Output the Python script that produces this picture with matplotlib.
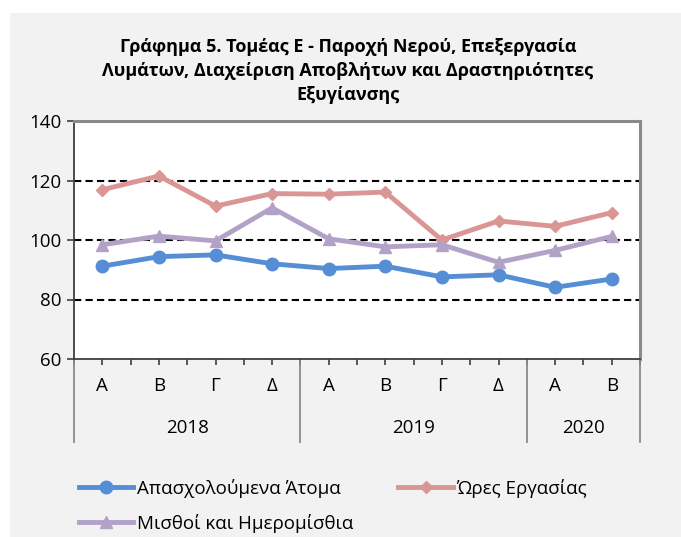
import matplotlib
matplotlib.use("Agg")
import matplotlib.pyplot as plt
from matplotlib.lines import Line2D
from matplotlib.patches import Rectangle
import matplotlib.transforms as mtransforms

plt.rcParams['font.family'] = ['Open Sans', 'DejaVu Sans']

quarters = ["Α", "Β", "Γ", "Δ", "Α", "Β", "Γ", "Δ", "Α", "Β"]
years = ["2018", "2019", "2020"]
year_counts = [4, 4, 2]
employed = [91.2, 94.4, 95.0, 92.0, 90.4, 91.2, 87.6, 88.3, 84.1, 86.9]
hours = [116.9, 121.5, 111.4, 115.6, 115.4, 116.1, 100.0, 106.4, 104.6, 109.2]
wages = [98.4, 101.3, 99.7, 110.8, 100.4, 97.7, 98.4, 92.5, 96.5, 101.2]
series_names = ["Απασχολούμενα Άτομα", "Ώρες Εργασίας", "Μισθοί και Ημερομίσθια"]
title = "Γράφημα 5. Τομέας Ε - Παροχή Νερού, Επεξεργασία\nΛυμάτων, Διαχείριση Αποβλήτων και Δραστηριότητες\nΕξυγίανσης"
yticks = [60, 80, 100, 120, 140]

W, H = 681, 537
fig = plt.figure(figsize=(W / 100, H / 100), dpi=100, facecolor="white")
fig.patches.append(Rectangle((10 / W, 0), 1, (H - 13) / H, transform=fig.transFigure,
                             facecolor="#f2f2f2", edgecolor="none", zorder=-10))

ax = fig.add_axes([74 / W, 1 - 359 / H, (640 - 74) / W, (359 - 121) / H])
ax.set_facecolor("white")

colors = ["#558ed5", "#d99694", "#b3a2c7"]
markers = ["o", "D", "^"]
msizes = [9, 6.5, 9]
xs = [i + 0.5 for i in range(len(quarters))]
for vals, c, m, ms, name in zip([employed, hours, wages], colors, markers, msizes, series_names):
    ax.plot(xs, vals, color=c, lw=3.5, marker=m, ms=ms, mec=c, mfc=c, label=name, zorder=3)

FS = 13.5
ax.set_xlim(0, len(quarters))
ax.set_ylim(60, 140)
ax.set_yticks(yticks)
ax.set_yticklabels([str(v) for v in yticks], fontsize=FS)
for v in yticks[1:-1]:
    ax.axhline(v, color="black", lw=1.5, ls=(0, (3.5, 2)), zorder=1)

for side in ["top", "right"]:
    ax.spines[side].set_color("#8a8a8a")
    ax.spines[side].set_linewidth(2.2)
ax.spines["left"].set_color("#3f3f3f")
ax.spines["left"].set_linewidth(1.3)
ax.spines["bottom"].set_color("#3f3f3f")
ax.spines["bottom"].set_linewidth(1.3)
ax.tick_params(axis="y", direction="out", length=5, width=1.2, color="#3f3f3f", pad=4)
ax.set_xticks([i * 0.5 for i in range(2 * len(quarters) + 1)])
ax.set_xticklabels([])
ax.tick_params(axis="x", direction="out", length=4, width=1.2, color="#3f3f3f")

trans = mtransforms.blended_transform_factory(ax.transData, ax.transAxes)
ah = 359 - 121
for x, q in zip(xs, quarters):
    ax.text(x, -27 / ah, q, transform=trans, ha="center", va="center", fontsize=FS)
start = 0
bounds = [0]
for y, n in zip(years, year_counts):
    ax.text(start + n / 2, -69 / ah, y, transform=trans, ha="center", va="center", fontsize=FS)
    start += n
    bounds.append(start)
for b in bounds:
    ax.plot([b, b], [0, -83 / ah], transform=trans, color="#8a8a8a", lw=1.3, clip_on=False)

fig.text(348 / W, 1 - 71 / H, title, ha="center", va="center", fontsize=13,
         fontweight="bold", linespacing=1.4)

handles = [Line2D([], [], color=c, lw=3.5, marker=m, ms=ms, mec=c, mfc=c)
           for c, m, ms in zip(colors, markers, msizes)]
order = [0, 2, 1]
fig.legend([handles[i] for i in order], [series_names[i] for i in order],
           loc="upper left", bbox_to_anchor=(62 / W, 1 - 462 / H),
           ncol=2, frameon=False, fontsize=FS, handlelength=2.9, handletextpad=0.2,
           columnspacing=2.4, labelspacing=0.85)

fig.savefig("out.png", dpi=100, facecolor=fig.get_facecolor())
